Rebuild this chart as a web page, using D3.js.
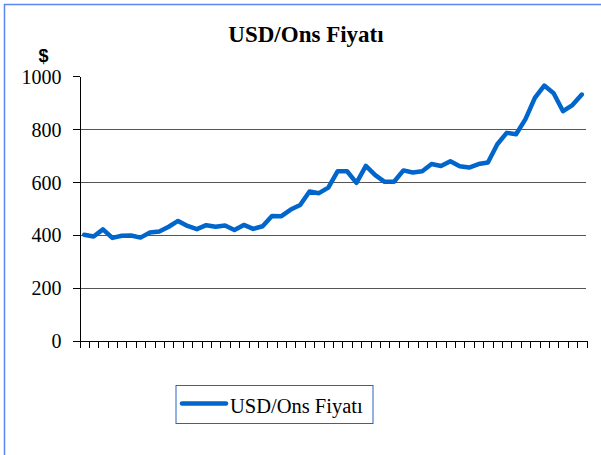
<!DOCTYPE html>
<html>
<head>
<meta charset="UTF-8">
<title>USD/Ons Fiyatı</title>
<script src="https://cdnjs.cloudflare.com/ajax/libs/d3/7.8.5/d3.min.js"></script>
<style>
    body {
        margin: 0;
        background: #fff;
    }
    svg { display: block; }
    .axis path, .axis line { stroke: #000; shape-rendering: crispEdges; }
    .grid line { stroke: #555; shape-rendering: crispEdges; }
</style>
</head>
<body>
<div id="chart"></div>
<script>
    // values, one per period
    const prices = [
        400, 393, 420, 388, 396, 397, 389, 408, 412, 430,
        452, 433, 421, 436, 430, 435, 418, 437, 422, 432,
        471, 470, 495, 512, 563, 557, 578, 640, 640, 596,
        660, 625, 600, 600, 643, 635, 640, 667, 660, 678,
        659, 654, 667, 673, 742, 785, 780, 837, 917, 964,
        935, 867, 890, 930
    ];
    const periods = prices.map((d, i) => String(i + 1));
    const yTicks = [0, 200, 400, 600, 800, 1000];
    const gridTicks = [200, 400, 600, 800];
    const title = "USD/Ons Fiyatı";
    const unitLabel = "$";

    const serif = "Liberation Serif";
    const width = 601, height = 455;
    const plotLeft = 79.5, plotRight = 586.5, plotTop = 76, plotBottom = 340.5;

    const svg = d3.select("#chart").append("svg")
        .attr("width", width)
        .attr("height", height)
        .style("font-family", serif);

    // outer frame (only top and left show inside the window)
    svg.append("path")
        .attr("d", `M4.5,${height} V4.5 H${width}`)
        .attr("fill", "none")
        .attr("stroke", "#5a86ee")
        .attr("stroke-width", 1.5);

    const x = d3.scaleBand().domain(periods).range([plotLeft, plotRight]);
    const xEdge = d3.scaleLinear().domain([0, periods.length]).range([plotLeft, plotRight]);
    const y = d3.scaleLinear().domain([0, 1000]).range([plotBottom, plotTop]);

    svg.append("g")
        .attr("class", "grid")
        .selectAll("line")
        .data(gridTicks)
        .join("line")
        .attr("x1", plotLeft)
        .attr("x2", plotRight - 1)
        .attr("y1", d => Math.round(y(d)) + 0.5)
        .attr("y2", d => Math.round(y(d)) + 0.5);

    svg.append("g")
        .attr("class", "axis")
        .attr("transform", `translate(${plotLeft},0)`)
        .call(d3.axisLeft(y).tickValues(yTicks).tickFormat(d3.format("d"))
            .tickSize(7).tickSizeOuter(0).tickPadding(11))
        .call(g => g.selectAll("text")
            .attr("dy", "0.36em")
            .attr("fill", "#000")
            .style("font-family", serif)
            .style("font-size", "20px"));

    svg.append("g")
        .attr("class", "axis")
        .attr("transform", `translate(0,${plotBottom})`)
        .call(d3.axisBottom(xEdge).tickValues(d3.range(periods.length + 1))
            .tickSize(7).tickSizeOuter(0).tickFormat(""));

    const line = d3.line()
        .x((d, i) => x(periods[i]) + x.bandwidth() / 2)
        .y(d => y(d));

    svg.append("path")
        .datum(prices)
        .attr("fill", "none")
        .attr("stroke", "#0066cc")
        .attr("stroke-width", 4.5)
        .attr("stroke-linejoin", "round")
        .attr("stroke-linecap", "round")
        .attr("d", line);

    svg.append("text")
        .attr("x", 306)
        .attr("y", 42)
        .attr("text-anchor", "middle")
        .style("font-family", serif)
        .style("font-weight", "bold")
        .style("font-size", "23px")
        .text(title);

    svg.append("text")
        .attr("x", 43.5)
        .attr("y", 62)
        .attr("text-anchor", "middle")
        .style("font-family", "Liberation Sans")
        .style("font-weight", "bold")
        .style("font-size", "18px")
        .text(unitLabel);

    // legend
    const legend = svg.append("g").attr("transform", "translate(176,385.5)");
    legend.append("rect")
        .attr("width", 197)
        .attr("height", 38)
        .attr("fill", "#fff")
        .attr("stroke", "#2a62c0");
    legend.append("line")
        .attr("x1", 6).attr("x2", 50)
        .attr("y1", 18).attr("y2", 18)
        .attr("stroke", "#0066cc")
        .attr("stroke-width", 4.5)
        .attr("stroke-linecap", "round");
    legend.append("text")
        .attr("x", 54)
        .attr("y", 27)
        .style("font-family", serif)
        .style("font-size", "20.5px")
        .text(title);
</script>
</body>
</html>
